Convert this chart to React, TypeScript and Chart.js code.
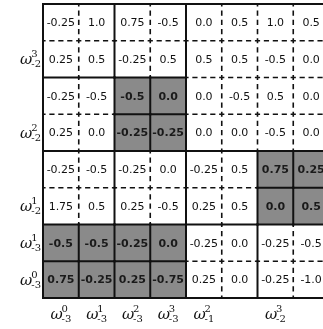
import React, { useEffect, useRef } from "react";
import { Chart, registerables } from "chart.js";

Chart.register(...registerables);

// ---- data ----
const row1 = ["-0.25", "1.0", "0.75", "-0.5", "0.0", "0.5", "1.0", "0.5"];
const row2 = ["0.25", "0.5", "-0.25", "0.5", "0.5", "0.5", "-0.5", "0.0"];
const row3 = ["-0.25", "-0.5", "-0.5", "0.0", "0.0", "-0.5", "0.5", "0.0"];
const row4 = ["0.25", "0.0", "-0.25", "-0.25", "0.0", "0.0", "-0.5", "0.0"];
const row5 = ["-0.25", "-0.5", "-0.25", "0.0", "-0.25", "0.5", "0.75", "0.25"];
const row6 = ["1.75", "0.5", "0.25", "-0.5", "0.25", "0.5", "0.0", "0.5"];
const row7 = ["-0.5", "-0.5", "-0.25", "0.0", "-0.25", "0.0", "-0.25", "-0.5"];
const row8 = ["0.75", "-0.25", "0.25", "-0.75", "0.25", "0.0", "-0.25", "-1.0"];
const ROWS = [row1, row2, row3, row4, row5, row6, row7, row8];

// block membership of each cell ('s' = shaded cell, its own block)
const blocks = [
  "AABBEEEE",
  "AABBEEEE",
  "CCssEEEE",
  "CCssEEEE",
  "FFGGHHss",
  "FFGGHHss",
  "ssssIIJJ",
  "ssssIIJJ",
];

const yLabelSup = ["", "3", "", "2", "", "1", "1", "0"];
const yLabelSub = ["", "-2", "", "-2", "", "-2", "-3", "-3"];
const xLabelSup = ["0", "1", "2", "3", "2", "", "3", ""];
const xLabelSub = ["-3", "-3", "-3", "-3", "-1", "", "-2", ""];

const NR = ROWS.length;
const NC = ROWS[0].length;

function blockId(r: number, c: number): string {
  const b = blocks[r][c];
  return b === "s" ? `s${r}_${c}` : b;
}

function drawDashed(
  ctx: CanvasRenderingContext2D,
  x0: number,
  y0: number,
  x1: number,
  y1: number
) {
  const L = Math.hypot(x1 - x0, y1 - y0);
  const n = Math.max(1, Math.round(L / 10));
  const step = L / n;
  const ux = (x1 - x0) / L;
  const uy = (y1 - y0) / L;
  const half = 2.6;
  ctx.beginPath();
  for (let k = 0; k <= n; k++) {
    const c = k * step;
    const a = Math.max(0, c - half);
    const b = Math.min(L, c + half);
    ctx.moveTo(x0 + ux * a, y0 + uy * a);
    ctx.lineTo(x0 + ux * b, y0 + uy * b);
  }
  ctx.stroke();
}

function drawOmega(
  ctx: CanvasRenderingContext2D,
  x: number,
  baseY: number,
  sup: string,
  sub: string,
  align: "right" | "center"
) {
  const omegaFont = "italic 15px 'DejaVu Serif'";
  const smallFont = "10px 'DejaVu Serif'";
  ctx.font = omegaFont;
  const wo = ctx.measureText("ω").width;
  ctx.font = smallFont;
  const ws = Math.max(ctx.measureText(sup).width, ctx.measureText(sub).width);
  const total = wo + ws - 1;
  const left = align === "right" ? x - total : x - total / 2;
  ctx.fillStyle = "#111";
  ctx.textAlign = "left";
  ctx.textBaseline = "alphabetic";
  ctx.font = omegaFont;
  ctx.fillText("ω", left, baseY);
  ctx.font = smallFont;
  ctx.fillText(sup, left + wo - 1, baseY - 7);
  ctx.fillText(sub, left + wo - 1, baseY + 3);
}

const matrixPlugin = {
  id: "matrixPlugin",
  afterDraw(chart: any) {
    const ctx: CanvasRenderingContext2D = chart.ctx;
    const xs = chart.scales.x;
    const ys = chart.scales.y;
    const px = (c: number) => xs.getPixelForValue(c);
    const py = (r: number) => ys.getPixelForValue(r);
    ctx.save();

    // shaded cells
    for (let r = 0; r < NR; r++) {
      for (let c = 0; c < NC; c++) {
        if (blocks[r][c] === "s") {
          ctx.fillStyle = "#8a8a8a";
          ctx.fillRect(px(c), py(r), px(c + 1) - px(c), py(r + 1) - py(r));
        }
      }
    }

    // cell texts
    ctx.textAlign = "center";
    ctx.textBaseline = "middle";
    for (let r = 0; r < NR; r++) {
      for (let c = 0; c < NC; c++) {
        const shaded = blocks[r][c] === "s";
        ctx.font = shaded ? "bold 11px 'DejaVu Sans'" : "11px 'DejaVu Sans'";
        ctx.fillStyle = shaded ? "#1a1a1a" : "#111";
        const cx = (px(c) + px(c + 1)) / 2;
        const cy = (py(r) + py(r + 1)) / 2 + 1;
        ctx.fillText(ROWS[r][c], cx, cy);
      }
    }

    // internal lines
    ctx.strokeStyle = "#111";
    ctx.lineCap = "butt";
    for (let c = 1; c < NC; c++) {
      for (let r = 0; r < NR; r++) {
        const solid = blockId(r, c - 1) !== blockId(r, c);
        const x = px(c);
        if (solid) {
          ctx.lineWidth = 2;
          ctx.beginPath();
          ctx.moveTo(x, py(r) - 1);
          ctx.lineTo(x, py(r + 1) + 1);
          ctx.stroke();
        } else {
          ctx.lineWidth = 1.6;
          drawDashed(ctx, x, py(r), x, py(r + 1));
        }
      }
    }
    for (let r = 1; r < NR; r++) {
      for (let c = 0; c < NC; c++) {
        const solid = blockId(r - 1, c) !== blockId(r, c);
        const y = py(r);
        if (solid) {
          ctx.lineWidth = 2;
          ctx.beginPath();
          ctx.moveTo(px(c) - 1, y);
          ctx.lineTo(px(c + 1) + 1, y);
          ctx.stroke();
        } else {
          ctx.lineWidth = 1.6;
          drawDashed(ctx, px(c), y, px(c + 1), y);
        }
      }
    }
    // outer border
    ctx.lineWidth = 2;
    ctx.strokeRect(px(0), py(0), px(NC) - px(0), py(NR) - py(0));

    // y labels
    for (let r = 0; r < NR; r++) {
      if (!yLabelSup[r]) continue;
      const cy = (py(r) + py(r + 1)) / 2;
      drawOmega(ctx, px(0) - 2, cy + 5, yLabelSup[r], yLabelSub[r], "right");
    }
    // x labels
    for (let c = 0; c < NC; c++) {
      if (!xLabelSup[c]) continue;
      const cx = (px(c) + px(c + 1)) / 2;
      drawOmega(ctx, cx, py(NR) + 21, xLabelSup[c], xLabelSub[c], "center");
    }
    ctx.restore();
  },
};

export default function App() {
  const canvasRef = useRef<HTMLCanvasElement | null>(null);

  useEffect(() => {
    const canvas = canvasRef.current;
    if (!canvas) return;
    const points: { x: number; y: number }[] = [];
    for (let r = 0; r < NR; r++) {
      for (let c = 0; c < NC; c++) {
        points.push({ x: c + 0.5, y: r + 0.5 });
      }
    }
    const chart = new Chart(canvas, {
      type: "scatter",
      data: {
        datasets: [
          {
            data: points,
            pointRadius: 0,
            pointHoverRadius: 0,
          },
        ],
      },
      options: {
        responsive: false,
        animation: false,
        devicePixelRatio: 1,
        layout: { padding: { left: 43, top: 4, right: 1, bottom: 31 } },
        plugins: {
          legend: { display: false },
          tooltip: { enabled: false },
        },
        events: [],
        scales: {
          x: { type: "linear", min: 0, max: NC, display: false },
          y: { type: "linear", min: 0, max: NR, reverse: true, display: false },
        },
      },
      plugins: [matrixPlugin],
    });
    return () => chart.destroy();
  }, []);

  return (
    <div
      style={{
        position: "fixed",
        left: 0,
        top: 0,
        width: 323,
        height: 329,
        overflow: "hidden",
        background: "#fff",
      }}
    >
      <canvas ref={canvasRef} width={330} height={329} style={{ display: "block" }} />
    </div>
  );
}
